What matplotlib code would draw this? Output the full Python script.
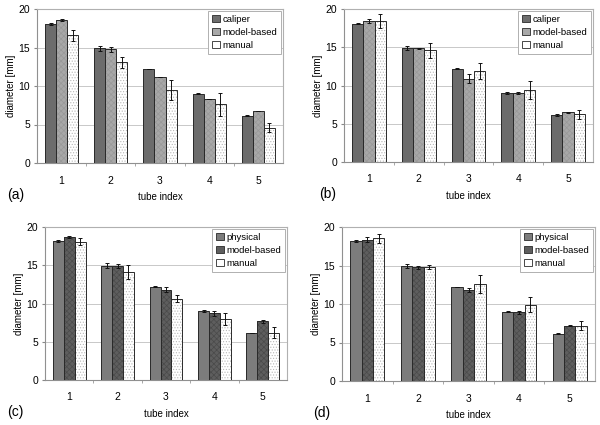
import matplotlib
matplotlib.use("Agg")
import matplotlib.pyplot as plt
from matplotlib.patches import Patch
import numpy as np

plt.rcParams['font.family'] = ['Liberation Sans', 'DejaVu Sans']
plt.rcParams['hatch.linewidth'] = 0.5

tubes = [1, 2, 3, 4, 5]

# panel (a)
a_caliper = [18.1, 14.9, 12.2, 9.0, 6.15]
a_caliper_err = [0.12, 0.3, 0.05, 0.1, 0.1]
a_model = [18.6, 14.75, 11.15, 8.3, 6.8]
a_model_err = [0.12, 0.3, 0.03, 0.03, 0.0]
a_manual = [16.6, 13.1, 9.45, 7.6, 4.6]
a_manual_err = [0.7, 0.7, 1.3, 1.5, 0.6]

# panel (b)
b_caliper = [18.1, 14.9, 12.2, 9.0, 6.13]
b_caliper_err = [0.12, 0.3, 0.05, 0.1, 0.08]
b_model = [18.45, 14.85, 10.9, 9.0, 6.52]
b_model_err = [0.3, 0.1, 0.6, 0.1, 0.08]
b_manual = [18.45, 14.6, 11.9, 9.45, 6.26]
b_manual_err = [0.9, 1.0, 1.0, 1.2, 0.6]

# panel (c)
c_physical = [18.15, 14.95, 12.2, 9.0, 6.15]
c_physical_err = [0.12, 0.3, 0.05, 0.1, 0.05]
c_model = [18.7, 14.95, 11.8, 8.7, 7.65]
c_model_err = [0.15, 0.25, 0.3, 0.3, 0.25]
c_manual = [18.1, 14.1, 10.65, 8.0, 6.2]
c_manual_err = [0.5, 0.9, 0.5, 0.8, 0.7]

# panel (d)
d_physical = [18.15, 14.95, 12.2, 9.0, 6.13]
d_physical_err = [0.12, 0.3, 0.05, 0.1, 0.05]
d_model = [18.35, 14.75, 11.85, 8.9, 7.2]
d_model_err = [0.3, 0.2, 0.25, 0.2, 0.1]
d_manual = [18.55, 14.8, 12.6, 9.9, 7.17]
d_manual_err = [0.6, 0.3, 1.2, 1.0, 0.6]

panels = [
    ("(a)", ["caliper", "model-based", "manual"],
     [a_caliper, a_model, a_manual], [a_caliper_err, a_model_err, a_manual_err],
     ["#6c6c6c", "#a8a8a8", "#ffffff"], [None, "xxxxxx", "......"],
     ["#6c6c6c", "#989898", "#b8b8b8"],
     [37, 283, 9, 163], 7),
    ("(b)", ["caliper", "model-based", "manual"],
     [b_caliper, b_model, b_manual], [b_caliper_err, b_model_err, b_manual_err],
     ["#6c6c6c", "#a8a8a8", "#ffffff"], [None, "xxxxxx", "......"],
     ["#6c6c6c", "#989898", "#b8b8b8"],
     [344, 593, 9, 162], 319),
    ("(c)", ["physical", "model-based", "manual"],
     [c_physical, c_model, c_manual], [c_physical_err, c_model_err, c_manual_err],
     ["#7c7c7c", "#5e5e5e", "#ffffff"], [None, "xxxxxx", "......"],
     ["#7c7c7c", "#4a4a4a", "#b8b8b8"],
     [45, 287, 227, 380], 7),
    ("(d)", ["physical", "model-based", "manual"],
     [d_physical, d_model, d_manual], [d_physical_err, d_model_err, d_manual_err],
     ["#7c7c7c", "#5e5e5e", "#ffffff"], [None, "xxxxxx", "......"],
     ["#7c7c7c", "#4a4a4a", "#b8b8b8"],
     [342, 595, 227, 381], 313),
]

W, H = 600, 425
fig = plt.figure(figsize=(6, 4.25), dpi=100)

bw = 0.225
x = np.arange(len(tubes)) + 1
for tag, names, vals, errs, faces, hatches, hcols, (l, r, t, b), tagx in panels:
    ax = fig.add_axes([l / W, 1 - b / H, (r - l) / W, (b - t) / H])
    for k in range(3):
        xs = x + (k - 1) * bw
        ax.bar(xs, vals[k], bw, color=faces[k], edgecolor=hcols[k],
               hatch=hatches[k], linewidth=0, zorder=2)
        ax.bar(xs, vals[k], bw, fill=False, edgecolor="#2a2a2a",
               linewidth=0.7, zorder=3)
        ax.errorbar(xs, vals[k], yerr=errs[k], fmt="none", ecolor="#111111",
                    elinewidth=0.7, capsize=1.6, capthick=0.7, zorder=4)
    ax.set_xlim(0.5, 5.5)
    ax.set_ylim(0, 20)
    ax.set_yticks([0, 5, 10, 15, 20])
    ax.set_xticks(x)
    ax.set_xticks([1.5, 2.5, 3.5, 4.5], minor=True)
    ax.tick_params(axis="x", which="major", length=0, pad=9, labelsize=7.5)
    ax.tick_params(axis="x", which="minor", length=2, color="#999999")
    ax.tick_params(axis="y", length=2, pad=3, labelsize=7.5, color="#888888")
    ax.yaxis.grid(True, color="#c8c8c8", linewidth=0.7, zorder=0)
    ax.set_axisbelow(True)
    for s in ["top", "right"]:
        ax.spines[s].set_color("#b0b0b0")
        ax.spines[s].set_linewidth(0.8)
    for s in ["left", "bottom"]:
        ax.spines[s].set_color("#909090")
        ax.spines[s].set_linewidth(0.8)
    ax.set_xlabel("tube index", fontsize=7, labelpad=5)
    ax.set_ylabel("diameter [mm]", fontsize=7, labelpad=2)
    handles = [Patch(facecolor=faces[k], edgecolor="#2a2a2a", linewidth=0.6)
               for k in range(3)]
    leg = ax.legend(handles, names, loc="upper right", fontsize=6.8,
                    frameon=True, fancybox=False, edgecolor="#b0b0b0",
                    framealpha=1, borderaxespad=0.2, handlelength=0.8,
                    handleheight=0.8, handletextpad=0.3, labelspacing=0.45,
                    borderpad=0.4)
    leg.get_frame().set_linewidth(0.7)
    fig.text(tagx / W, 1 - (b + 32) / H, tag, fontsize=10, ha="left", va="center")

fig.savefig("out.png", dpi=100)
